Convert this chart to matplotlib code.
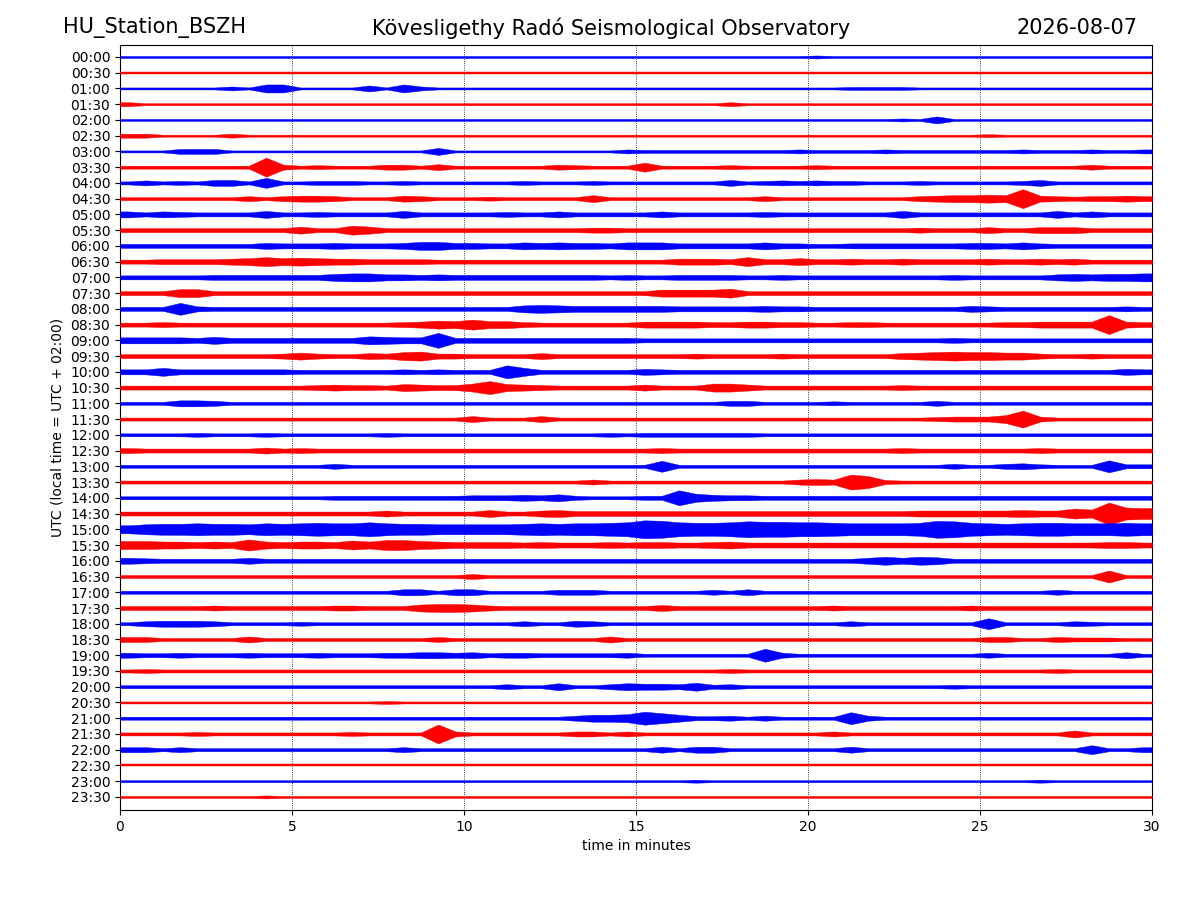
import numpy as np
import matplotlib.pyplot as plt

# ---- Data: half-minute envelope per 30-min trace, read off the helicorder ----
# one char per 0.5 min bin (60 per row), base-36 digit = half-height in 0.5 px
station = "HU_Station_BSZH"
observatory = "Kövesligethy Radó Seismological Observatory"
day = "2026-08-07"

row_labels = [f"{h:02d}:{m:02d}" for h in range(24) for m in (0, 30)]

envelope_rows = [
    "2222222222 2222222222 2222222222 2222222222 3222222222 2222222222",
    "2222222222 2222222222 2222222222 2222222222 2222222222 2222222222",
    "2222224288 2222628422 2222222222 2222222222 2233332222 2222222222",
    "4222222222 2222222222 2222222222 2222242222 2222222222 2222222222",
    "2222222222 2222222222 2222222222 2222222222 2222232722 2222222222",
    "4422224222 2222222222 2222222222 2222222222 2222222222 3222222222",
    "2225552222 2222222272 2222222224 3333333334 3333433333 3343334334",
    "33333333j5 3433355363 3333354333 9333343333 4333333333 3333335333",
    "35343663a3 3444334333 3334333433 3333363454 5443334333 3346333333",
    "3333333535 6653336533 3433333733 3333333533 3333335677 87j6545565",
    "6465444474 4544447444 4454464444 4644444544 4444474444 4444746444",
    "4444444444 7449744444 4444444554 4444444444 4444445444 6446664444",
    "4444444465 5565556886 6557676657 7755555755 4455555556 6575444444",
    "4455556797 8766555544 4444444444 4466659557 5565565555 6556564444",
    "4444455555 5578866565 5555555545 4455554454 4444444454 4444676778",
    "4448844444 4444444444 4444444444 4777794444 4444444444 4444444444",
    "444c544444 4444444444 4447876666 6655555655 4444444446 5444444454",
    "4454444444 4444445687 a775444444 6666556655 4455444444 4556666j65",
    "6666575555 55558766f5 5555555555 4444444444 4444444454 4444444444",
    "4444444445 7544658955 4444644444 4445444454 4444467898 8775445444",
    "5585555555 4444445454 44d8444444 6544444444 4444444444 4444444465",
    "4444444444 4565547655 8d76544444 6444886444 4444454444 4444444444",
    "3336653333 3333333333 3333333333 3333355333 3433333533 3333333333",
    "3333333333 3333333333 6333633333 3333333333 3333333455 58h5333333",
    "3333433343 3333343333 3333333343 4444444333 3333333333 3333333333",
    "5444444464 5444444444 4444444444 4544444444 4444454444 4445444444",
    "3333333333 3353333333 3333333333 3b33333333 3333333353 3564333c44",
    "3333333333 3333333333 3333333533 3333333335 65fc433333 3333333333",
    "3333333333 3344444444 5556574333 44f8655444 4444444444 4444444444",
    "4444444444 4444464444 4744675555 5555555555 5555556666 66766a8mcb",
    "8abbcbbacb cdccecbbaa aaabcbccde iheddegffe edccccdhgd cbcddcccdc",
    "8877676b76 77697aa876 6665655565 6655675555 5555555555 5555555665",
    "6544444644 4444444444 4444444444 4444444444 4446868744 4444444444",
    "3333333333 3333333333 5333333333 3333333333 3333333333 3333333c33",
    "3333333333 3333336636 6333355533 3333536333 3333333333 3333533333",
    "4444454444 4455444788 7544444444 4644444444 4544444445 4444444444",
    "3566653333 4333333333 3335336533 3333333333 3353333333 b333354333",
    "5533333633 3333333353 3333333363 3333333333 3333333333 5533544433",
    "5445444544 4544455665 6455444445 3333333d53 3333333333 5333333363",
    "3433333333 3333333333 3333333333 3333343333 3333333333 3333433333",
    "3333333333 3333333333 3353373357 6658453333 3333333343 3333333333",
    "2222222222 2222232222 2222222222 2222222222 2222222222 2222222222",
    "3333333333 3333333333 3333335778 da74453533 33c5333333 3333333333",
    "3333433333 33343333j5 3333335535 3333333333 3533333333 3333373333",
    "5535333333 3333335333 3333333333 3636633333 3363333333 3333339335",
    "2222222222 2222222222 2222222222 2222222222 2222222222 2222222222",
    "2222222222 2222222222 2222222222 2223222222 2222222222 2223222222",
    "2222222232 2222222222 2222222222 2222222222 2222222222 2222222222",
]

bin_centres = np.arange(60) * 0.5 + 0.25
trace_colors = ["#0000ff", "#ff0000"]

# ---- Figure ----
fig = plt.figure(figsize=(12, 9), dpi=100)
ax = fig.add_axes([0.1, 0.1, 0.86, 0.85])

y_top, y_bot = 0.76, -47.83
px_per_row = 0.85 * 900 / (y_top - y_bot)

x = np.r_[0.0, bin_centres, 30.0]
for i, row in enumerate(envelope_rows):
    vals = np.array([int(c, 36) for c in row.replace(" ", "")], dtype=float)
    env = vals * 0.5 / px_per_row
    env = np.r_[env[0], env, env[-1]]
    ax.fill_between(x, -i - env, -i + env, color=trace_colors[i % 2],
                    lw=0.3, zorder=3)

ax.set_xlim(0, 30)
ax.set_ylim(y_bot, y_top)
ax.set_xticks(np.arange(0, 31, 5))
ax.set_yticks(-np.arange(len(row_labels)))
ax.set_yticklabels(row_labels)
ax.tick_params(labelsize=10)
ax.grid(axis="x", color="k", ls=":", lw=0.6)

ax.set_xlabel("time in minutes", fontsize=10)
ax.set_ylabel("UTC (local time = UTC + 02:00)", fontsize=10)

fig.text(0.0525, 0.969, station, fontsize=15, ha="left", va="center")
fig.text(0.509, 0.969, observatory, fontsize=15, ha="center", va="center")
fig.text(0.9475, 0.969, day, fontsize=15, ha="right", va="center")

fig.savefig("out.png", dpi=100)
